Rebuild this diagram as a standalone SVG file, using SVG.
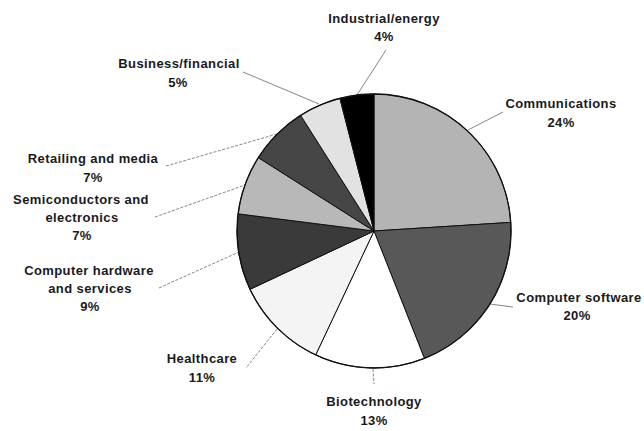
<svg xmlns="http://www.w3.org/2000/svg" width="644" height="431" viewBox="0 0 644 431">
<style>
.lbl{font-family:"Liberation Sans",Arial,sans-serif;font-weight:bold;font-size:13px;letter-spacing:0.4px;fill:#1a1a1a;text-anchor:middle}
.sl{stroke:#111;stroke-width:1;stroke-linejoin:round}
.ld{fill:none;stroke:#666;stroke-width:0.8}
.dt{stroke-dasharray:3 1.5}
</style>
<rect width="644" height="431" fill="#ffffff"/>
<g id="connectors">
<line class="ld" x1="386" y1="50" x2="357" y2="95"/>
<line class="ld" x1="243" y1="72" x2="319" y2="104"/>
<line class="ld" x1="503" y1="112" x2="468" y2="130"/>
<line class="ld" x1="490" y1="304" x2="513" y2="307"/>
<line class="ld dt" x1="373" y1="369" x2="374" y2="384"/>
<line class="ld dt" x1="277" y1="329" x2="246" y2="368"/>
<line class="ld dt" x1="159" y1="288" x2="239" y2="252"/>
<line class="ld dt" x1="155" y1="217" x2="245" y2="185"/>
<line class="ld dt" x1="166" y1="166" x2="277" y2="134"/>
</g>
<g id="communications">
<path class="sl" fill="#b4b4b4" d="M374,231 L374,94 A137,137 0 0 1 510.73,222.40 Z"/>
<text class="lbl" x="561" y="108">Communications</text>
<text class="lbl" x="561" y="127">24%</text>
</g>
<g id="computer-software">
<path class="sl" fill="#585858" d="M374,231 L510.73,222.40 A137,137 0 0 1 424.43,358.38 Z"/>
<text class="lbl" x="579" y="302">Computer software</text>
<text class="lbl" x="577" y="320">20%</text>
</g>
<g id="biotechnology">
<path class="sl" fill="#ffffff" d="M374,231 L424.43,358.38 A137,137 0 0 1 315.67,354.96 Z"/>
<text class="lbl" x="374" y="406">Biotechnology</text>
<text class="lbl" x="374" y="425">13%</text>
</g>
<g id="healthcare">
<path class="sl" fill="#f4f4f4" d="M374,231 L315.67,354.96 A137,137 0 0 1 250.04,289.33 Z"/>
<text class="lbl" x="202" y="363">Healthcare</text>
<text class="lbl" x="202" y="382">11%</text>
</g>
<g id="computer-hardware">
<path class="sl" fill="#3a3a3a" d="M374,231 L250.04,289.33 A137,137 0 0 1 238.08,213.83 Z"/>
<text class="lbl" x="89" y="275">Computer hardware</text>
<text class="lbl" x="90" y="293">and services</text>
<text class="lbl" x="90" y="311">9%</text>
</g>
<g id="semiconductors">
<path class="sl" fill="#b8b8b8" d="M374,231 L238.08,213.83 A137,137 0 0 1 258.33,157.59 Z"/>
<text class="lbl" x="81" y="204">Semiconductors and</text>
<text class="lbl" x="82" y="222">electronics</text>
<text class="lbl" x="82" y="240">7%</text>
</g>
<g id="retailing">
<path class="sl" fill="#464646" d="M374,231 L258.33,157.59 A137,137 0 0 1 300.59,115.33 Z"/>
<text class="lbl" x="93" y="163">Retailing and media</text>
<text class="lbl" x="93" y="182">7%</text>
</g>
<g id="business">
<path class="sl" fill="#e2e2e2" d="M374,231 L300.59,115.33 A137,137 0 0 1 339.93,98.30 Z"/>
<text class="lbl" x="179" y="68">Business/financial</text>
<text class="lbl" x="178" y="87">5%</text>
</g>
<g id="industrial">
<path class="sl" fill="#000000" d="M374,231 L339.93,98.30 A137,137 0 0 1 374,94 Z"/>
<text class="lbl" x="384" y="23">Industrial/energy</text>
<text class="lbl" x="384" y="41">4%</text>
</g>
<circle cx="374" cy="231" r="137" fill="none" stroke="#111" stroke-width="1.3"/>
</svg>
